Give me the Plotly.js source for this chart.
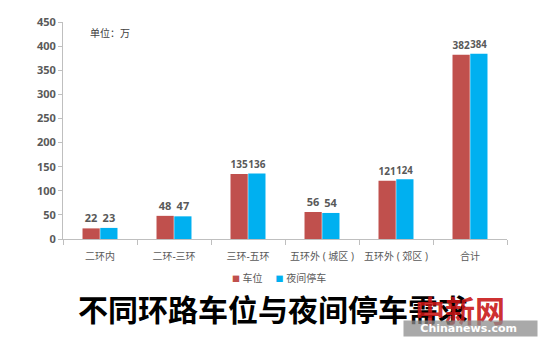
<!DOCTYPE html>
<html>
<head>
<meta charset="utf-8">
<script src="https://cdn.plot.ly/plotly-3.0.1.min.js"></script>
<style>html,body{margin:0;padding:0;background:#fff;}#chart{width:540px;height:338px;}</style>
</head>
<body>
<div id="chart"></div>
<script>
var categories = ['二环内', '二环-三环', '三环-五环', '五环外 ( 城区 )', '五环外 ( 郊区 )', '合计'];
var parkingSpaces = [22, 48, 135, 56, 121, 382];
var nightParking = [23, 47, 136, 54, 124, 384];
var seriesNames = ['车位', '夜间停车'];
var seriesColors = ['#C0504D', '#00B0F0'];
var yTicks = [0, 50, 100, 150, 200, 250, 300, 350, 400, 450];

var fontFam = 'Noto Sans, Noto Sans CJK SC, sans-serif';
var labelFont = {family: fontFam, size: 11, color: '#595959', weight: 'bold'};

var traces = [
  {type: 'bar', name: seriesNames[0], x: categories, y: parkingSpaces,
   marker: {color: seriesColors[0]}, text: parkingSpaces.map(String), textposition: 'outside',
   textfont: labelFont, cliponaxis: false, hoverinfo: 'none'},
  {type: 'bar', name: seriesNames[1], x: categories, y: nightParking,
   marker: {color: seriesColors[1]}, text: nightParking.map(String), textposition: 'outside',
   textfont: labelFont, cliponaxis: false, hoverinfo: 'none'}
];

var NB = '\u00A0';
var legendText = '<span style="color:' + seriesColors[0] + ';font-size:8px">■</span>' + NB + seriesNames[0] +
  NB + NB + NB + NB + NB + '<span style="color:' + seriesColors[1] + ';font-size:8px">■</span>' + NB + seriesNames[1];

var layout = {
  width: 540, height: 338,
  margin: {l: 63, r: 33, t: 22, b: 99},
  paper_bgcolor: '#fff', plot_bgcolor: '#fff',
  barmode: 'group', bargap: 0.52, bargroupgap: 0.03,
  font: {family: fontFam, color: '#595959'},
  showlegend: false,
  xaxis: {
    type: 'category', tickson: 'boundaries', ticks: 'outside', ticklen: 5, tickcolor: '#bfbfbf',
    showline: true, linecolor: '#bfbfbf', linewidth: 1, showgrid: false, zeroline: false,
    tickangle: 0, automargin: false, ticklabelstandoff: 8,
    tickfont: {family: fontFam, size: 10, color: '#595959'}
  },
  yaxis: {
    range: [0, 450], tickvals: yTicks, ticks: 'outside', ticklen: 4, tickcolor: '#bfbfbf',
    showline: true, linecolor: '#bfbfbf', linewidth: 1, showgrid: false, zeroline: false,
    tickfont: {family: fontFam, size: 11, color: '#595959', weight: 'bold'}
  },
  annotations: [
    {text: '单位：万', xref: 'paper', yref: 'paper', x: 0.056, xanchor: 'left', y: 0.949, yanchor: 'middle',
     showarrow: false, font: {family: fontFam, size: 10, color: '#404040'}},
    {text: legendText, xref: 'paper', yref: 'paper', x: 0.375, xanchor: 'left', y: -0.18, yanchor: 'middle',
     showarrow: false, font: {family: fontFam, size: 10, color: '#595959'}},
    {text: '不同环路车位与夜间停车需求', xref: 'paper', yref: 'paper', x: 0.03, xanchor: 'left', y: -0.327,
     yanchor: 'middle', showarrow: false,
     font: {family: fontFam, size: 30, color: '#000', weight: 'bold'}},
    {text: '中新网', xref: 'paper', yref: 'paper', x: 1.0, xanchor: 'right', y: -0.21, yanchor: 'top',
     showarrow: false, font: {family: 'Noto Sans CJK SC', size: 30, color: 'rgba(200,20,20,0.9)', weight: 'bold'}},
    {text: NB + NB + NB + NB + 'Chinanews.com' + NB + NB + NB + NB + NB, xref: 'paper', yref: 'paper',
     x: 1.07, xanchor: 'right', y: -0.452, yanchor: 'bottom',
     showarrow: false, bgcolor: 'rgba(140,140,140,0.75)', borderpad: 1,
     font: {family: 'DejaVu Sans', size: 11, color: '#fff', weight: 'bold'}}
  ]
};

Plotly.newPlot('chart', traces, layout, {displayModeBar: false, staticPlot: true});
</script>
</body>
</html>
